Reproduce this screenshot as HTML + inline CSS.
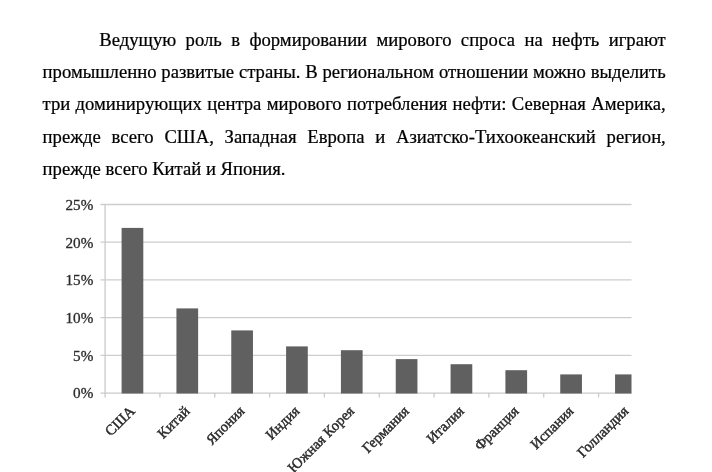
<!DOCTYPE html>
<html lang="ru">
<head>
<meta charset="utf-8">
<title>Мировой спрос на нефть</title>
<style>
html,body{margin:0;padding:0;background:#fff;}
body{width:712px;height:472px;overflow:hidden;position:relative;font-family:"Liberation Serif",serif;color:#000;}
.p{-webkit-text-stroke:0.22px #000;position:absolute;left:42.6px;top:24px;width:623.2px;font-size:18.67px;line-height:32.2px;}
.l{display:block;text-align:justify;text-align-last:justify;white-space:nowrap;height:32.2px;}
.l.first{padding-left:56.7px;}
.l.last{text-align-last:left;text-align:left;}
svg{position:absolute;left:0;top:0;}
svg text{font-family:"Liberation Serif",serif;font-size:15.2px;fill:#2b2b2b;stroke:#2b2b2b;stroke-width:0.3px;}
svg .r text{font-size:14.65px;stroke-width:0.45px;}
</style>
</head>
<body>
<div class="p">
<span class="l first">Ведущую роль в формировании мирового спроса на нефть играют</span>
<span class="l">промышленно развитые страны. В региональном отношении можно выделить</span>
<span class="l">три доминирующих центра мирового потребления нефти: Северная Америка,</span>
<span class="l">прежде всего США, Западная Европа и Азиатско-Тихоокеанский регион,</span>
<span class="l last">прежде всего Китай и Япония.</span>
</div>
<svg width="712" height="472" viewBox="0 0 712 472" xmlns="http://www.w3.org/2000/svg">
<g stroke="#cdcdcd" stroke-width="1.3" fill="none">
<line x1="100.5" y1="204.50" x2="631.5" y2="204.50"/>
<line x1="100.5" y1="242.22" x2="631.5" y2="242.22"/>
<line x1="100.5" y1="279.94" x2="631.5" y2="279.94"/>
<line x1="100.5" y1="317.66" x2="631.5" y2="317.66"/>
<line x1="100.5" y1="355.38" x2="631.5" y2="355.38"/>
</g>
<g stroke="#cacaca" stroke-width="1.3" fill="none">
<line x1="105.1" y1="203.90" x2="105.1" y2="397.40"/>
<line x1="100.5" y1="393.10" x2="631.5" y2="393.10"/>
<line x1="159.93" y1="393.10" x2="159.93" y2="397.40"/>
<line x1="214.76" y1="393.10" x2="214.76" y2="397.40"/>
<line x1="269.59" y1="393.10" x2="269.59" y2="397.40"/>
<line x1="324.42" y1="393.10" x2="324.42" y2="397.40"/>
<line x1="379.25" y1="393.10" x2="379.25" y2="397.40"/>
<line x1="434.08" y1="393.10" x2="434.08" y2="397.40"/>
<line x1="488.91" y1="393.10" x2="488.91" y2="397.40"/>
<line x1="543.74" y1="393.10" x2="543.74" y2="397.40"/>
<line x1="598.57" y1="393.10" x2="598.57" y2="397.40"/>
</g>
<g fill="#606060">
<rect x="121.60" y="227.9" width="21.70" height="165.60"/>
<rect x="176.43" y="308.4" width="21.70" height="85.10"/>
<rect x="231.26" y="330.4" width="21.70" height="63.10"/>
<rect x="286.09" y="346.4" width="21.70" height="47.10"/>
<rect x="340.92" y="350.2" width="21.70" height="43.30"/>
<rect x="395.75" y="359.1" width="21.70" height="34.40"/>
<rect x="450.58" y="364.2" width="21.70" height="29.30"/>
<rect x="505.41" y="370.2" width="21.70" height="23.30"/>
<rect x="560.24" y="374.4" width="21.70" height="19.10"/>
<rect x="615.07" y="374.4" width="16.43" height="19.10"/>
</g>
<g class="t" text-anchor="end">
<text x="93.3" y="209.80">25%</text>
<text x="93.3" y="247.52">20%</text>
<text x="93.3" y="285.24">15%</text>
<text x="93.3" y="322.96">10%</text>
<text x="93.3" y="360.68">5%</text>
<text x="93.3" y="398.40">0%</text>
</g>
<g class="t r" text-anchor="end">
<text transform="translate(135.70,412) rotate(-45)">США</text>
<text transform="translate(190.53,412) rotate(-45)">Китай</text>
<text transform="translate(245.36,412) rotate(-45)">Япония</text>
<text transform="translate(300.19,412) rotate(-45)">Индия</text>
<text transform="translate(355.02,412) rotate(-45)">Южная Корея</text>
<text transform="translate(409.85,412) rotate(-45)">Германия</text>
<text transform="translate(464.68,412) rotate(-45)">Италия</text>
<text transform="translate(519.51,412) rotate(-45)">Франция</text>
<text transform="translate(574.34,412) rotate(-45)">Испания</text>
<text transform="translate(629.17,412) rotate(-45)">Голландия</text>
</g>
</svg>
</body>
</html>
